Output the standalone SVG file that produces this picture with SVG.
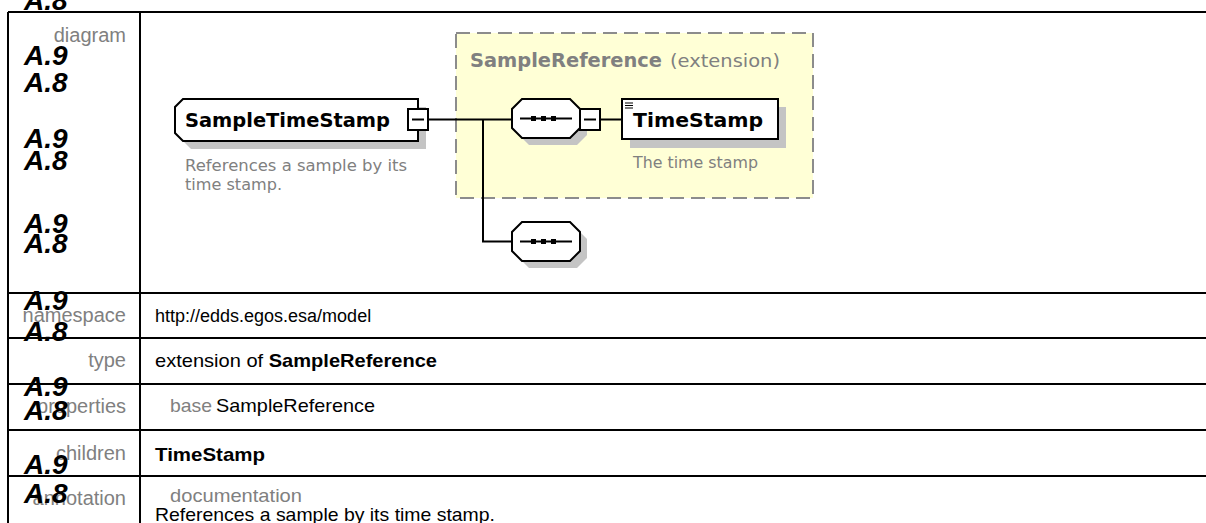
<svg xmlns="http://www.w3.org/2000/svg" width="1206" height="523" viewBox="0 0 1206 523">
<style>
.grid{stroke:#000;stroke-width:2;fill:none}
.lbl{font-family:"Liberation Sans",Arial,sans-serif;font-size:20px;fill:#808080;text-anchor:end}
.val{font-family:"Liberation Sans",Arial,sans-serif;font-size:19px;fill:#000}
.sub{font-family:"Liberation Sans",Arial,sans-serif;font-size:19px;fill:#808080}
.b{font-weight:bold}
.ax{font-family:"Liberation Sans",Arial,sans-serif;font-size:28px;font-weight:bold;font-style:italic;fill:#000}
.shadow{fill:#c4c4c4;stroke:none}
.box{fill:#fff;stroke:#000;stroke-width:2}
.nm{font-family:"DejaVu Sans",Verdana,sans-serif;font-size:19px;font-weight:bold;fill:#000}
.ann{font-family:"DejaVu Sans",Verdana,sans-serif;font-size:15px;fill:#808080}
.conn{stroke:#000;stroke-width:2;fill:none}
</style>
<defs>
<path id="oct" d="M10,0 H58 L68,10 V29 L58,39 H10 L0,29 V10 Z"/>
<g id="seqdots"><path d="M8,19.5 H60" stroke="#000" stroke-width="2"/><rect x="19" y="17" width="5" height="5"/><rect x="29" y="17" width="5" height="5"/><rect x="39" y="17" width="5" height="5"/></g>
<g id="minus"><rect x="0" y="0" width="20" height="21" fill="#fff" stroke="#000" stroke-width="2"/><path d="M4,10.5 H16" stroke="#000" stroke-width="2"/></g>
</defs>
<rect width="1206" height="523" fill="#fff"/>

<g id="table">
<path class="grid" d="M8,12 H1206 M8,12 V523 M140,12 V523 M8,293 H1206 M8,338 H1206 M8,384 H1206 M8,430 H1206 M8,476 H1206"/>
<text class="lbl" x="126" y="42">diagram</text>
<text class="lbl" x="126" y="322">namespace</text>
<text class="lbl" x="126" y="367">type</text>
<text class="lbl" x="126" y="413">properties</text>
<text class="lbl" x="126" y="460">children</text>
<text class="lbl" x="126" y="505">annotation</text>
<text class="val" x="155" y="322" style="font-size:18px">http://edds.egos.esa/model</text>
<text class="val" x="155" y="367" textLength="282" lengthAdjust="spacingAndGlyphs">extension of <tspan class="b">SampleReference</tspan></text>
<text class="sub" x="170" y="412" textLength="42" lengthAdjust="spacingAndGlyphs">base</text>
<text class="val" x="216" y="412" textLength="159" lengthAdjust="spacingAndGlyphs">SampleReference</text>
<text class="val b" x="155" y="461" textLength="110" lengthAdjust="spacingAndGlyphs">TimeStamp</text>
<text class="sub" x="170" y="502" textLength="132" lengthAdjust="spacingAndGlyphs">documentation</text>
<text class="val" x="155" y="521" textLength="340" lengthAdjust="spacingAndGlyphs">References a sample by its time stamp.</text>
</g>

<g id="extension-box">
<rect x="456" y="33" width="357" height="165" fill="#ffffd6" stroke="#8c8c8c" stroke-width="2" stroke-dasharray="14 7"/>
<text class="nm" x="470" y="67" style="fill:#808080" textLength="192" lengthAdjust="spacingAndGlyphs">SampleReference</text>
<text class="ann" x="670" y="67" style="font-size:18px" textLength="110" lengthAdjust="spacingAndGlyphs">(extension)</text>
</g>

<g id="connectors">
<path class="conn" d="M429,119.5 H512 M483,119.5 V241.5 H512 M600,119.5 H622"/>
</g>

<g id="SampleTimeStamp">
<path class="shadow" d="M191,107 H426 V149 H191 L183,141 V115 Z"/>
<path class="box" d="M183,99 H418 V141 H183 L175,133 V107 Z"/>
<text class="nm" x="185" y="127" textLength="205" lengthAdjust="spacingAndGlyphs">SampleTimeStamp</text>
<use href="#minus" x="408" y="109"/>
<text class="ann" x="185" y="171" textLength="222" lengthAdjust="spacingAndGlyphs">References a sample by its</text>
<text class="ann" x="185" y="190" textLength="97" lengthAdjust="spacingAndGlyphs">time stamp.</text>
</g>

<g id="sequence1">
<use href="#oct" x="519" y="106" class="shadow"/>
<use href="#oct" x="512" y="99" class="box"/>
<use href="#seqdots" x="512" y="99"/>
<use href="#minus" x="580" y="109"/>
</g>

<g id="TimeStamp">
<rect class="shadow" x="630" y="107" width="156" height="41"/>
<rect class="box" x="622" y="99" width="156" height="40"/>
<path d="M625,103 H633 M625,105.5 H633 M625,108 H633" stroke="#000" stroke-width="1"/>
<text class="nm" x="633" y="127" textLength="130" lengthAdjust="spacingAndGlyphs">TimeStamp</text>
<text class="ann" x="633" y="168" textLength="125" lengthAdjust="spacingAndGlyphs">The time stamp</text>
</g>

<g id="sequence2">
<use href="#oct" x="519" y="229" class="shadow"/>
<use href="#oct" x="512" y="222" class="box"/>
<use href="#seqdots" x="512" y="222"/>
</g>

<g id="overlay-labels">
<text class="ax" x="24" y="10">A.8</text>
<text class="ax" x="24" y="65">A.9</text>
<text class="ax" x="24" y="92">A.8</text>
<text class="ax" x="24" y="148">A.9</text>
<text class="ax" x="24" y="170">A.8</text>
<text class="ax" x="24" y="233">A.9</text>
<text class="ax" x="24" y="253">A.8</text>
<text class="ax" x="24" y="310">A.9</text>
<text class="ax" x="24" y="341">A.8</text>
<text class="ax" x="24" y="396">A.9</text>
<text class="ax" x="24" y="420">A.8</text>
<text class="ax" x="24" y="474">A.9</text>
<text class="ax" x="24" y="503">A.8</text>
</g>
</svg>
